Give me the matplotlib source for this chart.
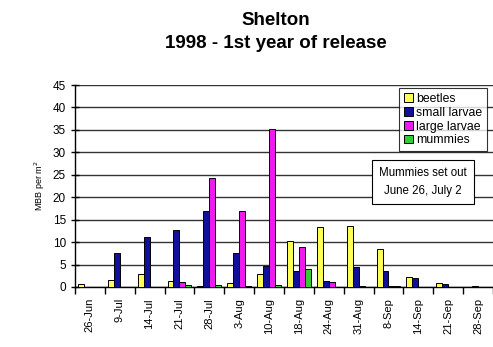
import matplotlib
matplotlib.use("Agg")
import matplotlib.pyplot as plt
import numpy as np

plt.rcParams["font.family"] = ["Liberation Sans", "DejaVu Sans"]

dates = ["26-Jun", "9-Jul", "14-Jul", "21-Jul", "28-Jul", "3-Aug", "10-Aug",
         "18-Aug", "24-Aug", "31-Aug", "8-Sep", "14-Sep", "21-Sep", "28-Sep"]
beetles = [0.6, 1.5, 2.9, 1.3, 0.2, 0.9, 2.9, 10.2, 13.3, 13.6, 8.5, 2.3, 0.9, 0.0]
small_larvae = [0.0, 7.6, 11.2, 12.6, 17.0, 7.6, 4.7, 3.6, 1.3, 4.4, 3.6, 1.9, 0.6, 0.3]
large_larvae = [0.0, 0.0, 0.0, 1.2, 24.3, 17.0, 35.2, 9.0, 1.1, 0.3, 0.3, 0.0, 0.0, 0.0]
mummies = [0.0, 0.0, 0.0, 0.5, 0.5, 0.3, 0.5, 3.9, 0.0, 0.0, 0.2, 0.0, 0.0, 0.0]

series = [
    ("beetles", beetles, "#ffff55"),
    ("small larvae", small_larvae, "#10109a"),
    ("large larvae", large_larvae, "#ee1aee"),
    ("mummies", mummies, "#33cc33"),
]

fig = plt.figure(figsize=(4.93, 3.47), dpi=100)
ax = fig.add_axes([0.152, 0.173, 0.848, 0.582])

x = np.arange(len(dates))
w = 0.2
for i, (name, vals, col) in enumerate(series):
    ax.bar(x + (i - 1.5) * w, vals, width=w, color=col, edgecolor="black",
           linewidth=0.7, label=name, zorder=3)

ax.set_xlim(-0.5, len(dates) - 0.5)
ax.set_ylim(0, 45)
ax.set_yticks(np.arange(0, 46, 5))
ax.yaxis.grid(True, color="#333333", linewidth=1.0, zorder=0)
ax.set_axisbelow(True)

ax.set_xticks(x)
ax.set_xticklabels(dates, rotation=90, fontsize=8)
ax.set_xticks(np.arange(-0.5, len(dates), 1), minor=True)
ax.tick_params(axis="x", which="major", length=0, pad=8)
ax.tick_params(axis="x", which="minor", length=5, direction="out", width=1)
ax.tick_params(axis="y", labelsize=8.5, length=6, direction="inout", width=1)

for s in ("top", "right"):
    ax.spines[s].set_visible(False)
for s in ("left", "bottom"):
    ax.spines[s].set_linewidth(1.0)

ax.set_ylabel("MBB per m$^2$", fontsize=6.5, labelpad=4)

fig.suptitle("Shelton\n1998 - 1st year of release", fontsize=13.5,
             fontweight="bold", x=0.56, y=0.965, linespacing=1.45)

leg = ax.legend(loc="upper right", bbox_to_anchor=(0.985, 0.985), fontsize=8.8,
                frameon=True, fancybox=False, edgecolor="black",
                handlelength=0.7, handleheight=0.7, handletextpad=0.25,
                borderpad=0.4, labelspacing=0.15, borderaxespad=0)
leg.get_frame().set_linewidth(0.8)

ax.text(0.833, 0.52, "Mummies set out\nJune 26, July 2", transform=ax.transAxes,
        ha="center", va="center", fontsize=8.3, linespacing=1.6, zorder=5,
        bbox=dict(boxstyle="square,pad=0.6", facecolor="white",
                  edgecolor="black", linewidth=0.8))

fig.savefig("out.png", dpi=100)
